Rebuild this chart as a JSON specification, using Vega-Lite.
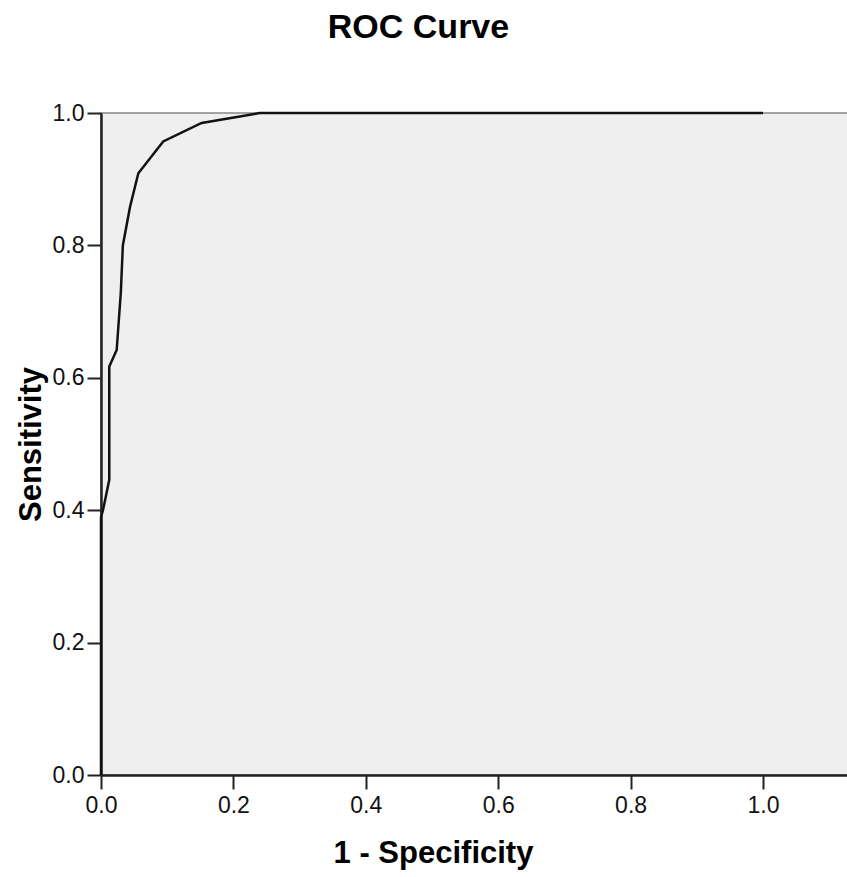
{
  "$schema": "https://vega.github.io/schema/vega-lite/v6.json",
  "autosize": {"type": "none"},
  "padding": {"left": 101, "top": 113, "right": 0, "bottom": 102},
  "width": 747,
  "height": 662,
  "background": "white",
  "title": {
    "text": "ROC Curve",
    "font": "Liberation Sans",
    "fontSize": 34,
    "fontWeight": "bold",
    "color": "#000",
    "anchor": "middle",
    "frame": "group",
    "dx": -56,
    "baseline": "alphabetic",
    "offset": 30
  },
  "config": {
    "view": {"fill": "#efefef", "stroke": "#888", "strokeWidth": 1.5},
    "axis": {
      "labelFont": "Liberation Sans",
      "labelFontSize": 23,
      "labelColor": "#111",
      "labelFlush": false,
      "titleFont": "Liberation Sans",
      "titleFontSize": 31,
      "titleFontWeight": "bold",
      "titleColor": "#000",
      "tickSize": 14,
      "tickWidth": 2,
      "tickColor": "#222",
      "domainColor": "#222",
      "domainWidth": 2.5,
      "grid": false
    }
  },
  "data": {
    "values": [
      {"i": 0, "fpr": 0, "tpr": 0},
      {"i": 1, "fpr": 0, "tpr": 0.39},
      {"i": 2, "fpr": 0.003, "tpr": 0.40},
      {"i": 3, "fpr": 0.0125, "tpr": 0.446},
      {"i": 4, "fpr": 0.0125, "tpr": 0.617},
      {"i": 5, "fpr": 0.0237, "tpr": 0.642},
      {"i": 6, "fpr": 0.030, "tpr": 0.73},
      {"i": 7, "fpr": 0.033, "tpr": 0.80},
      {"i": 8, "fpr": 0.0438, "tpr": 0.858},
      {"i": 9, "fpr": 0.0564, "tpr": 0.909},
      {"i": 10, "fpr": 0.094, "tpr": 0.957},
      {"i": 11, "fpr": 0.152, "tpr": 0.985},
      {"i": 12, "fpr": 0.24, "tpr": 1.0},
      {"i": 13, "fpr": 1.0, "tpr": 1.0}
    ]
  },
  "mark": {"type": "line", "color": "#111", "strokeWidth": 2.5, "clip": false},
  "encoding": {
    "x": {
      "field": "fpr",
      "type": "quantitative",
      "scale": {"domain": [0, 1.1284], "nice": false, "zero": false},
      "axis": {
        "values": [0, 0.2, 0.4, 0.6, 0.8, 1.0],
        "format": ".1f",
        "labelPadding": 5,
        "title": "1 - Specificity",
        "titleX": 332,
        "titleY": 87,
        "titleBaseline": "alphabetic",
        "titleAlign": "center",
        "titleAnchor": null
      }
    },
    "y": {
      "field": "tpr",
      "type": "quantitative",
      "scale": {"domain": [0, 1], "nice": false},
      "axis": {
        "values": [0, 0.2, 0.4, 0.6, 0.8, 1.0],
        "format": ".1f",
        "labelPadding": 3,
        "title": "Sensitivity",
        "titleX": -61,
        "titleY": 331,
        "titleAngle": -90,
        "titleBaseline": "alphabetic",
        "titleAlign": "center"
      }
    },
    "order": {"field": "i", "type": "quantitative"}
  }
}
